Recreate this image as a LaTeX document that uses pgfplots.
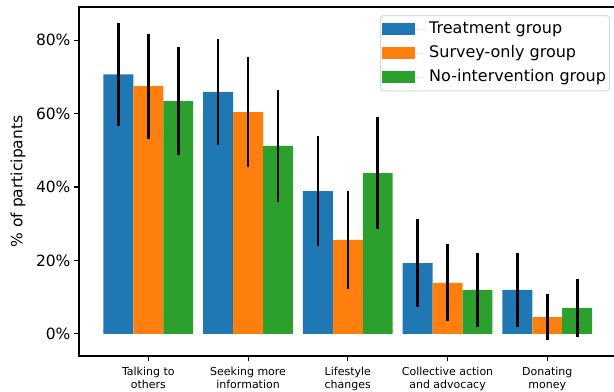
\documentclass[border=0pt]{standalone}
\usepackage{pgfplots}
\usepackage{pgfplotstable}
\pgfplotsset{compat=1.18}
\usepackage{fontspec}
\setmainfont{DejaVu Sans}
\definecolor{tabblue}{HTML}{1F77B4}
\definecolor{taborange}{HTML}{FF7F0E}
\definecolor{tabgreen}{HTML}{2CA02C}
\pgfplotstableread{
xt xs xn t te s se n ne
-0.3 0 0.3 70.7 14.0 67.5 14.3 63.4 14.7
0.7 1 1.3 65.9 14.4 60.4 15.0 51.2 15.3
1.7 2 2.3 38.9 15.0 25.6 13.3 43.8 15.2
2.7 3 3.3 19.3 12.0 13.9 10.5 12.0 10.0
3.7 4 4.3 12.0 10.0 4.6 6.3 7.1 7.9
}\data
\begin{document}
\begin{tikzpicture}
\begin{axis}[
  scale only axis, width=537.6bp, height=349bp,
  xmin=-0.695, xmax=4.695, ymin=-6.02, ymax=89.02,
  xtick={0,1,2,3,4},
  xticklabels={{Talking to\\others},{Seeking more\\information},{Lifestyle\\changes},{Collective action\\and advocacy},{Donating\\money}},
  xticklabel style={align=center, font=\fontsize{11bp}{13bp}\selectfont, yshift=-3bp},
  ytick={0,20,40,60,80},
  yticklabels={0\%,20\%,40\%,60\%,80\%},
  yticklabel style={font=\fontsize{15.5bp}{18bp}\selectfont},
  tick pos=left, tick align=outside, major tick length=5bp,
  tick style={line width=1.1bp, black},
  axis line style={line width=1.1bp},
  every axis y label/.style={at={(rel axis cs:0,0.5)}, rotate=90, anchor=center, yshift=61bp, font=\fontsize{15.5bp}{18bp}\selectfont},
  ylabel={\% of participants},
  legend style={at={(rel axis cs:0.9877,0.977)}, anchor=north east, draw=black!15, line width=1bp, rounded corners=3bp,
    font=\fontsize{16bp}{18bp}\selectfont, inner xsep=1.5bp, inner ysep=2bp, row sep=0pt,
    nodes={text height=11.5bp, text depth=3.5bp, inner ysep=4.4bp}},
  legend cell align=left,
  legend image code/.code={\fill[#1, draw=none, sharp corners] (0bp,-6bp) rectangle (33bp,6bp); \path (0bp,0bp) -- (45bp,0bp);},
]
\addplot[ybar, bar width=0.3, bar shift=0, fill=tabblue, draw=none,
  error bars/.cd, y dir=both, y explicit, error mark=none, error bar style={line width=2.6bp, black}]
  table[x=xt, y=t, y error=te]{\data};
\addlegendentry{Treatment group}
\addplot[ybar, bar width=0.3, bar shift=0, fill=taborange, draw=none,
  error bars/.cd, y dir=both, y explicit, error mark=none, error bar style={line width=2.6bp, black}]
  table[x=xs, y=s, y error=se]{\data};
\addlegendentry{Survey-only group}
\addplot[ybar, bar width=0.3, bar shift=0, fill=tabgreen, draw=none,
  error bars/.cd, y dir=both, y explicit, error mark=none, error bar style={line width=2.6bp, black}]
  table[x=xn, y=n, y error=ne]{\data};
\addlegendentry{No-intervention group}
\end{axis}
\pgfresetboundingbox
\path[use as bounding box] ([shift={(-79bp,-36bp)}]current axis.south west) rectangle ([shift={(535bp,356bp)}]current axis.south west);
\end{tikzpicture}
\end{document}
